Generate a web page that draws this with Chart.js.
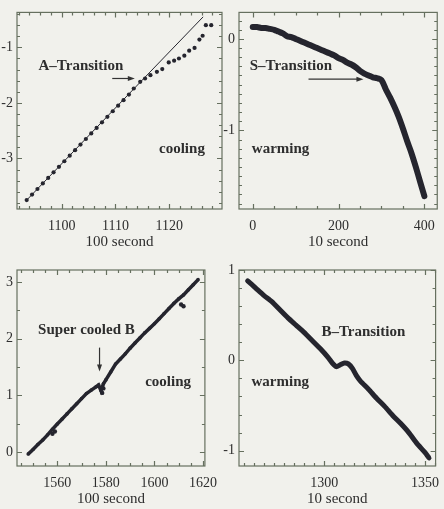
<!DOCTYPE html>
<html><head><meta charset="utf-8">
<script src="https://cdn.jsdelivr.net/npm/chart.js@4.4.1/dist/chart.umd.min.js"></script>
<style>
html,body{margin:0;padding:0;background:#f1f1ec;}
body{width:444px;height:509px;position:relative;overflow:hidden;}
canvas{position:absolute;}
</style></head><body>
<canvas id="c1" width="226" height="255" style="left:0;top:0"></canvas>
<canvas id="c2" width="222" height="255" style="left:222px;top:0"></canvas>
<canvas id="c3" width="226" height="254" style="left:0;top:255px"></canvas>
<canvas id="c4" width="222" height="254" style="left:222px;top:255px"></canvas>
<script>
// ---- data ----
const p1X = [1093.5,1094.5,1095.5,1096.5,1097.5,1098.5,1099.5,1100.5,1101.5,1102.5,1103.5,1104.5,1105.5,1106.5,1107.5,1108.5,1109.5,1110.5,1111.5,1112.5,1113.4,1114.6,1115.5,1116.5,1117.7,1118.7,1119.9,1120.9,1121.8,1122.8,1123.7,1124.7,1125.6,1126.2,1126.8,1127.8];
const p1Y = [-3.75,-3.65,-3.55,-3.45,-3.35,-3.25,-3.15,-3.05,-2.95,-2.85,-2.75,-2.65,-2.55,-2.45,-2.35,-2.25,-2.15,-2.05,-1.95,-1.85,-1.74,-1.62,-1.56,-1.50,-1.44,-1.39,-1.27,-1.24,-1.20,-1.15,-1.06,-1.01,-0.86,-0.79,-0.60,-0.60];
const p1LineX = [1093.5, 1126.3];
const p1LineY = [-3.75, -0.45];

const p2X = [0,10,20,30,40,50,60,70,80,90,100,110,120,130,140,150,160,170,180,190,200,210,220,230,240,250,260,270,280,290,300,310,320,330,340,350,360,370,380,390,400];
const p2Y = [0.13,0.13,0.12,0.12,0.11,0.10,0.08,0.06,0.03,0.02,0.00,-0.02,-0.04,-0.06,-0.08,-0.10,-0.12,-0.14,-0.16,-0.18,-0.21,-0.23,-0.26,-0.28,-0.31,-0.35,-0.38,-0.40,-0.42,-0.43,-0.45,-0.55,-0.64,-0.74,-0.85,-0.98,-1.12,-1.25,-1.40,-1.56,-1.72];

const p3X = [1548,1550,1552,1554,1556,1558,1560,1562,1564,1566,1568,1570,1572,1574,1576,1577,1578,1579,1580,1582,1584,1586,1588,1590,1592,1594,1596,1598,1600,1602,1604,1606,1608,1610,1612,1614,1616,1618];
const p3Y = [-0.04,0.04,0.13,0.21,0.30,0.40,0.49,0.58,0.67,0.76,0.85,0.94,1.03,1.09,1.15,1.18,1.08,1.20,1.27,1.41,1.55,1.64,1.73,1.83,1.92,2.01,2.10,2.18,2.26,2.35,2.44,2.53,2.62,2.70,2.77,2.86,2.95,3.04];
const p3ExtraX = [1558,1559,1578.5,1579,1611,1612];
const p3ExtraY = [0.32,0.36,1.04,1.12,2.60,2.57];

const p4X = [1262,1266,1270,1274,1278,1282,1286,1290,1294,1298,1302,1304,1306,1308,1310,1312,1314,1316,1318,1322,1326,1330,1334,1338,1342,1346,1350,1352];
const p4Y = [0.88,0.80,0.72,0.65,0.56,0.47,0.39,0.31,0.22,0.13,0.03,-0.03,-0.07,-0.05,-0.03,-0.04,-0.09,-0.17,-0.23,-0.32,-0.42,-0.51,-0.61,-0.70,-0.80,-0.92,-1.02,-1.08];

const xTitles = ['100 second', '10 second', '100 second', '10 second'];

// ---- styles ----
const INK = '#25252e';
const FRAME = '#66705f';
const TEXT = '#2e2e2e';
const SERIF = '"Liberation Serif", "DejaVu Serif", serif';

const pts = (xs, ys) => xs.map((v, i) => ({x: v, y: ys[i]}));
const isMaj = (v, m) => Math.abs(v / m - Math.round(v / m)) < 1e-6;

const deco = {
  id: 'deco',
  afterDatasetsDraw(chart, args, o) {
    const {ctx, chartArea: a, scales: {x, y}} = chart;
    ctx.save();
    ctx.strokeStyle = FRAME; ctx.lineWidth = 1.2;
    ctx.strokeRect(a.left, a.top, a.right - a.left, a.bottom - a.top);
    ctx.beginPath();
    x.ticks.forEach(t => {
      const px = Math.round(x.getPixelForValue(t.value)) + 0.5;
      const L = isMaj(t.value, o.xMajor) ? 5 : 3;
      ctx.moveTo(px, a.bottom); ctx.lineTo(px, a.bottom - L);
      ctx.moveTo(px, a.top); ctx.lineTo(px, a.top + L);
    });
    y.ticks.forEach(t => {
      const py = Math.round(y.getPixelForValue(t.value)) + 0.5;
      const L = isMaj(t.value, o.yMajor) ? 5 : 3;
      ctx.moveTo(a.left, py); ctx.lineTo(a.left + L, py);
      ctx.moveTo(a.right, py); ctx.lineTo(a.right - L, py);
    });
    ctx.stroke();
    ctx.fillStyle = TEXT;
    ctx.font = 'bold 15px ' + SERIF;
    ctx.textBaseline = 'middle'; ctx.textAlign = 'left';
    (o.notes || []).forEach(n => ctx.fillText(n.t, x.getPixelForValue(n.x), y.getPixelForValue(n.y)));
    ctx.strokeStyle = '#333'; ctx.fillStyle = '#333'; ctx.lineWidth = 1.2;
    (o.arrows || []).forEach(r => {
      const x1 = x.getPixelForValue(r.x1), y1 = y.getPixelForValue(r.y1);
      const x2 = x.getPixelForValue(r.x2), y2 = y.getPixelForValue(r.y2);
      const ang = Math.atan2(y2 - y1, x2 - x1);
      ctx.beginPath(); ctx.moveTo(x1, y1); ctx.lineTo(x2 - 4 * Math.cos(ang), y2 - 4 * Math.sin(ang)); ctx.stroke();
      ctx.beginPath();
      ctx.moveTo(x2, y2);
      ctx.lineTo(x2 - 7 * Math.cos(ang) + 2.5 * Math.sin(ang), y2 - 7 * Math.sin(ang) - 2.5 * Math.cos(ang));
      ctx.lineTo(x2 - 7 * Math.cos(ang) - 2.5 * Math.sin(ang), y2 - 7 * Math.sin(ang) + 2.5 * Math.cos(ang));
      ctx.closePath(); ctx.fill();
    });
    ctx.restore();
  }
};

function makeChart(id, datasets, c) {
  return new Chart(document.getElementById(id), {
    type: 'line',
    data: {datasets},
    plugins: [deco],
    options: {
      responsive: false, animation: false, events: [],
      layout: {padding: {top: c.padTop, right: c.padRight, left: 0, bottom: 0}},
      plugins: {legend: {display: false}, tooltip: {enabled: false}, deco: c.deco},
      scales: {
        x: {
          type: 'linear', min: c.xMin, max: c.xMax,
          grid: {display: false, drawTicks: false}, border: {display: false},
          afterFit: s => { s.height = c.xH; },
          ticks: {
            stepSize: c.xStep, autoSkip: false, maxRotation: 0, includeBounds: false,
            padding: 9, color: TEXT, font: {family: SERIF, size: 14, lineHeight: 1.2},
            callback: v => isMaj(v, c.deco.xMajor) ? String(Math.round(v)) : ''
          },
          title: {display: true, text: c.title, color: TEXT, font: {family: SERIF, size: 15, lineHeight: 1.2}, padding: {top: 0, bottom: c.titlePad}}
        },
        y: {
          type: 'linear', min: c.yMin, max: c.yMax,
          grid: {display: false, drawTicks: false}, border: {display: false},
          afterFit: s => { s.width = 17; },
          ticks: {
            stepSize: c.yStep, autoSkip: false, includeBounds: false,
            padding: 4, color: TEXT, font: {family: SERIF, size: 14, lineHeight: 1.2},
            callback: v => isMaj(v, c.deco.yMajor) ? String(Math.round(v)) : ''
          }
        }
      }
    }
  });
}

makeChart('c1', [
  {data: pts(p1LineX, p1LineY), borderColor: INK, borderWidth: 1, pointRadius: 0, fill: false},
  {data: pts(p1X, p1Y), showLine: false, pointRadius: 2.1, pointBackgroundColor: INK, pointBorderWidth: 0}
], {padTop: 7, padRight: 4, xH: 46, titlePad: 4, title: xTitles[0],
    xMin: 1091.7, xMax: 1129.8, xStep: 2, yMin: -3.91, yMax: -0.37, yStep: 0.2,
    deco: {xMajor: 10, yMajor: 1,
      notes: [{t: 'A\u2013Transition', x: 1095.7, y: -1.33}, {t: 'cooling', x: 1118.1, y: -2.84}],
      arrows: [{x1: 1109.4, y1: -1.56, x2: 1113.6, y2: -1.56}]}});

makeChart('c2', [
  {data: pts(p2X, p2Y), borderColor: INK, borderWidth: 6, pointRadius: 0, fill: false, tension: 0.3, borderCapStyle: 'round'}
], {padTop: 7, padRight: 2, xH: 46, titlePad: 4, title: xTitles[1],
    xMin: -32, xMax: 430, xStep: 50, yMin: -1.86, yMax: 0.29, yStep: 0.1,
    deco: {xMajor: 200, yMajor: 1,
      notes: [{t: 'S\u2013Transition', x: -7, y: -0.30}, {t: 'warming', x: -2, y: -1.21}],
      arrows: [{x1: 130, y1: -0.44, x2: 258, y2: -0.44}]}});

makeChart('c3', [
  {data: pts(p3X, p3Y), borderColor: INK, borderWidth: 3.5, pointRadius: 1.8, pointBackgroundColor: INK, pointBorderWidth: 0, fill: false},
  {data: pts(p3ExtraX, p3ExtraY), showLine: false, pointRadius: 2.2, pointBackgroundColor: INK, pointBorderWidth: 0}
], {padTop: 15, padRight: 4, xH: 43, titlePad: 1, title: xTitles[2],
    xMin: 1543.4, xMax: 1620.8, xStep: 5, yMin: -0.25, yMax: 3.21, yStep: 0.5,
    deco: {xMajor: 20, yMajor: 1,
      notes: [{t: 'Super cooled B', x: 1552.1, y: 2.14}, {t: 'cooling', x: 1596.2, y: 1.23}],
      arrows: [{x1: 1577.4, y1: 1.84, x2: 1577.4, y2: 1.42}]}});

makeChart('c4', [
  {data: pts(p4X, p4Y), borderColor: INK, borderWidth: 5, pointRadius: 0, fill: false, tension: 0.2, borderCapStyle: 'round'}
], {padTop: 15, padRight: 2, xH: 43, titlePad: 1, title: xTitles[3],
    xMin: 1257.7, xMax: 1355.3, xStep: 5, yMin: -1.17, yMax: 1.0, yStep: 0.2,
    deco: {xMajor: 50, yMajor: 1,
      notes: [{t: 'B\u2013Transition', x: 1298.6, y: 0.31}, {t: 'warming', x: 1263.9, y: -0.24}],
      arrows: []}});
</script>
</body></html>
